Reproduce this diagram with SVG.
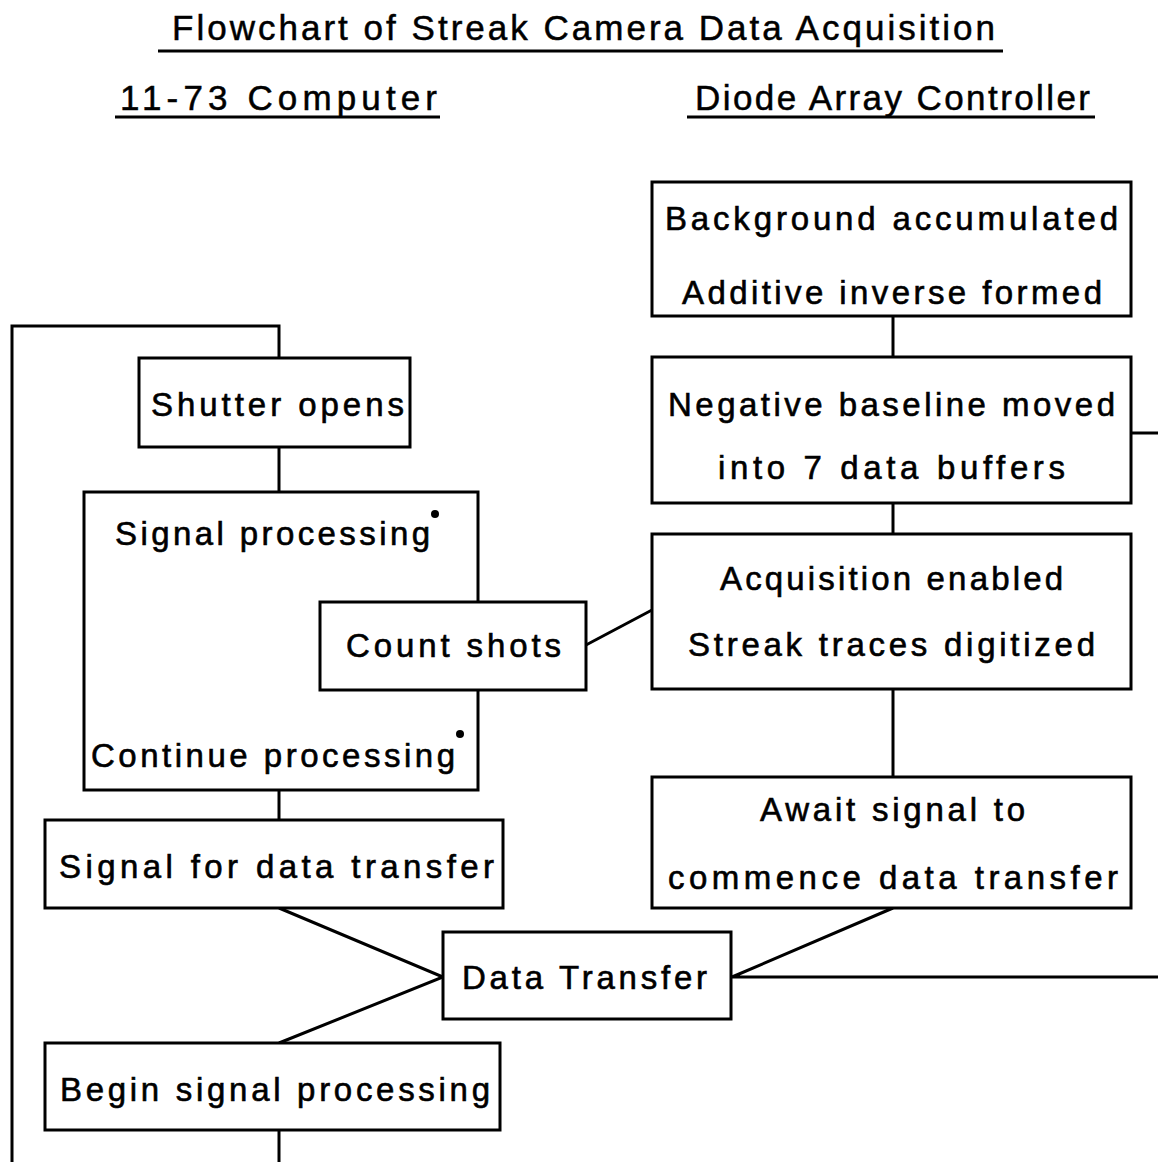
<svg xmlns="http://www.w3.org/2000/svg" width="1158" height="1162" viewBox="0 0 1158 1162">
<style>
.bg{fill:#fff}
.box{fill:#fff;stroke:#000;stroke-width:3}
.ln{fill:none;stroke:#000;stroke-width:3}
.t{font-family:"Liberation Sans","Arial",sans-serif;font-size:33px;fill:#000;stroke:#000;stroke-width:0.6}
.h{font-family:"Liberation Sans","Arial",sans-serif;font-size:35px;fill:#000;stroke:#000;stroke-width:0.5}
</style>
<rect class="bg" x="0" y="0" width="1158" height="1162"/>
<g id="headings">
<text class="h" x="172" y="40" textLength="823" lengthAdjust="spacing">Flowchart of Streak Camera Data Acquisition</text>
<line class="ln" x1="158" y1="51" x2="1003" y2="51"/>
<text class="h" x="120" y="110" textLength="317" lengthAdjust="spacing">11-73 Computer</text>
<line class="ln" x1="115" y1="117" x2="440" y2="117"/>
<text class="h" x="695" y="110" textLength="395" lengthAdjust="spacing">Diode Array Controller</text>
<line class="ln" x1="687" y1="117" x2="1095" y2="117"/>
</g>
<g id="connectors">
<polyline class="ln" points="12,1162 12,326 279,326 279,358"/>
<line class="ln" x1="279" y1="447" x2="279" y2="492"/>
<line class="ln" x1="279" y1="790" x2="279" y2="820"/>
<polyline class="ln" points="279,908 443,977 279,1043"/>
<line class="ln" x1="279" y1="1130" x2="279" y2="1162"/>
<line class="ln" x1="586" y1="645" x2="652" y2="610"/>
<line class="ln" x1="893" y1="316" x2="893" y2="357"/>
<line class="ln" x1="1131" y1="433" x2="1158" y2="433"/>
<line class="ln" x1="893" y1="503" x2="893" y2="534"/>
<line class="ln" x1="893" y1="689" x2="893" y2="777"/>
<polyline class="ln" points="893,908 732,977 1158,977"/>
</g>
<g id="n-shutter">
<rect class="box" x="139" y="358" width="271" height="89"/>
<text class="t" x="151" y="416" textLength="253" lengthAdjust="spacing">Shutter opens</text>
</g>
<g id="n-processing">
<rect class="box" x="84" y="492" width="394" height="298"/>
<text class="t" x="115" y="545" textLength="315" lengthAdjust="spacing">Signal processing</text>
<circle cx="435" cy="514" r="4" fill="#000"/>
<text class="t" x="91" y="767" textLength="364" lengthAdjust="spacing">Continue processing</text>
<circle cx="460" cy="734" r="4" fill="#000"/>
</g>
<g id="n-count">
<rect class="box" x="320" y="602" width="266" height="88"/>
<text class="t" x="346" y="657" textLength="215" lengthAdjust="spacing">Count shots</text>
</g>
<g id="n-signal-transfer">
<rect class="box" x="45" y="820" width="458" height="88"/>
<text class="t" x="59" y="878" textLength="435" lengthAdjust="spacing">Signal for data transfer</text>
</g>
<g id="n-data-transfer">
<rect class="box" x="443" y="932" width="288" height="87"/>
<text class="t" x="462" y="989" textLength="245" lengthAdjust="spacing">Data Transfer</text>
</g>
<g id="n-begin">
<rect class="box" x="45" y="1043" width="455" height="87"/>
<text class="t" x="60" y="1101" textLength="430" lengthAdjust="spacing">Begin signal processing</text>
</g>
<g id="n-background">
<rect class="box" x="652" y="182" width="479" height="134"/>
<text class="t" x="665" y="230" textLength="453" lengthAdjust="spacing">Background accumulated</text>
<text class="t" x="682" y="304" textLength="420" lengthAdjust="spacing">Additive inverse formed</text>
</g>
<g id="n-negative">
<rect class="box" x="652" y="357" width="479" height="146"/>
<text class="t" x="668" y="416" textLength="447" lengthAdjust="spacing">Negative baseline moved</text>
<text class="t" x="718" y="479" textLength="347" lengthAdjust="spacing">into 7 data buffers</text>
</g>
<g id="n-acquisition">
<rect class="box" x="652" y="534" width="479" height="155"/>
<text class="t" x="720" y="590" textLength="343" lengthAdjust="spacing">Acquisition enabled</text>
<text class="t" x="688" y="656" textLength="407" lengthAdjust="spacing">Streak traces digitized</text>
</g>
<g id="n-await">
<rect class="box" x="652" y="777" width="479" height="131"/>
<text class="t" x="760" y="821" textLength="265" lengthAdjust="spacing">Await signal to</text>
<text class="t" x="668" y="889" textLength="450" lengthAdjust="spacing">commence data transfer</text>
</g>
</svg>
